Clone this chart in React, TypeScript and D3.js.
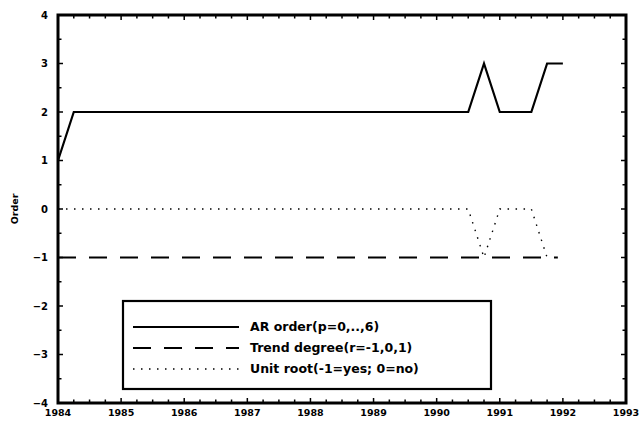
import { useEffect, useRef } from "react";
import * as d3 from "d3";

// AR order, breakpoints of the path (quarterly dates)
const arDates = [1984, 1984.25, 1990.5, 1990.75, 1991.0, 1991.5, 1991.75, 1992.0];
const arOrder = [1, 2, 2, 3, 2, 2, 3, 3];

// trend degree
const trendDates = [1984, 1991.92];
const trendDegree = [-1, -1];

// unit root
const rootDates = [1984, 1990.5, 1990.75, 1991.0, 1991.5, 1991.75];
const unitRoot = [0, 0, -1, 0, 0, -1];

const yearTicks = [1984, 1985, 1986, 1987, 1988, 1989, 1990, 1991, 1992, 1993];
const orderTicks = [-4, -3, -2, -1, 0, 1, 2, 3, 4];

const legendLabels = [
  "AR order(p=0,..,6)",
  "Trend degree(r=-1,0,1)",
  "Unit root(-1=yes; 0=no)",
];

const W = 640;
const H = 422;
const FONT = "'DejaVu Sans', 'Liberation Sans', sans-serif";

const App = () => {
  const svgRef = useRef<SVGSVGElement | null>(null);

  useEffect(() => {
    const margin = { top: 15, right: 14, bottom: 19, left: 58 };
    const svg = d3.select(svgRef.current);
    svg.selectAll("*").remove();

    const x = d3
      .scaleLinear()
      .domain([1984, 1993])
      .range([margin.left, W - margin.right]);
    const y = d3
      .scaleLinear()
      .domain([-4, 4])
      .range([H - margin.bottom, margin.top]);

    const [x0, x1] = x.range();
    const [y0, y1] = y.range();

    // small inward ticks on all four sides
    const ticks = svg.append("g").attr("stroke", "#000").attr("stroke-width", 1.5);
    d3.range(1984, 1993.01, 0.25).forEach((t) => {
      const major = Math.abs(t - Math.round(t)) < 1e-6;
      const len = major ? 5 : 3.5;
      ticks.append("line").attr("x1", x(t)).attr("x2", x(t)).attr("y1", y0).attr("y2", y0 - len);
      ticks.append("line").attr("x1", x(t)).attr("x2", x(t)).attr("y1", y1).attr("y2", y1 + len);
    });
    d3.range(-4, 4.01, 0.5).forEach((t) => {
      const major = Math.abs(t - Math.round(t)) < 1e-6;
      const len = major ? 5 : 3.5;
      ticks.append("line").attr("y1", y(t)).attr("y2", y(t)).attr("x1", x0).attr("x2", x0 + len);
      ticks.append("line").attr("y1", y(t)).attr("y2", y(t)).attr("x1", x1).attr("x2", x1 - len);
    });

    // tick labels
    svg
      .append("g")
      .selectAll("text")
      .data(orderTicks)
      .join("text")
      .attr("x", x0 - 10)
      .attr("y", (d) => y(d))
      .attr("dy", "0.35em")
      .attr("text-anchor", "end")
      .attr("font-family", FONT)
      .attr("font-weight", "bold")
      .attr("font-size", 10)
      .text((d) => (d < 0 ? `\u2212${-d}` : `${d}`));

    svg
      .append("g")
      .selectAll("text")
      .data(yearTicks)
      .join("text")
      .attr("x", (d) => x(d))
      .attr("y", y0 + 13)
      .attr("text-anchor", "middle")
      .attr("font-family", FONT)
      .attr("font-weight", "bold")
      .attr("font-size", 9.5)
      .text((d) => d);

    svg
      .append("text")
      .attr("transform", `translate(18,${y(0)}) rotate(-90)`)
      .attr("text-anchor", "middle")
      .attr("font-family", FONT)
      .attr("font-weight", "bold")
      .attr("font-size", 9.5)
      .text("Order");

    const line = d3
      .line<[number, number]>()
      .x((d) => x(d[0]))
      .y((d) => y(d[1]));

    const series = [
      { dates: arDates, values: arOrder, width: 2.2, dash: null as string | null },
      { dates: trendDates, values: trendDegree, width: 2.2, dash: "18,13" },
      { dates: rootDates, values: unitRoot, width: 1.4, dash: "1.5,6.5" },
    ];

    series.forEach((s) => {
      const pts = s.dates.map((d, i) => [d, s.values[i]] as [number, number]);
      svg
        .append("path")
        .attr("d", line(pts))
        .attr("fill", "none")
        .attr("stroke", "#000")
        .attr("stroke-width", s.width)
        .attr("stroke-dasharray", s.dash);
    });

    // frame
    svg
      .append("rect")
      .attr("x", x0)
      .attr("y", y1)
      .attr("width", x1 - x0)
      .attr("height", y0 - y1)
      .attr("fill", "none")
      .attr("stroke", "#000")
      .attr("stroke-width", 3);

    // legend
    const lg = svg.append("g").attr("transform", "translate(123,301)");
    lg.append("rect")
      .attr("width", 368)
      .attr("height", 88)
      .attr("fill", "#fff")
      .attr("stroke", "#000")
      .attr("stroke-width", 2.2);

    legendLabels.forEach((label, i) => {
      const ly = 26 + i * 21;
      lg.append("line")
        .attr("x1", 10)
        .attr("x2", 116)
        .attr("y1", ly)
        .attr("y2", ly)
        .attr("stroke", "#000")
        .attr("stroke-width", series[i].width)
        .attr("stroke-dasharray", series[i].dash);
      lg.append("text")
        .attr("x", 127)
        .attr("y", ly)
        .attr("dy", "0.35em")
        .attr("font-family", FONT)
        .attr("font-weight", "bold")
        .attr("font-size", 12.5)
        .text(label);
    });
  }, []);

  return (
    <svg
      ref={svgRef}
      width={W}
      height={H}
      style={{ position: "absolute", left: 0, top: 0, background: "#fff" }}
    />
  );
};

export default App;
